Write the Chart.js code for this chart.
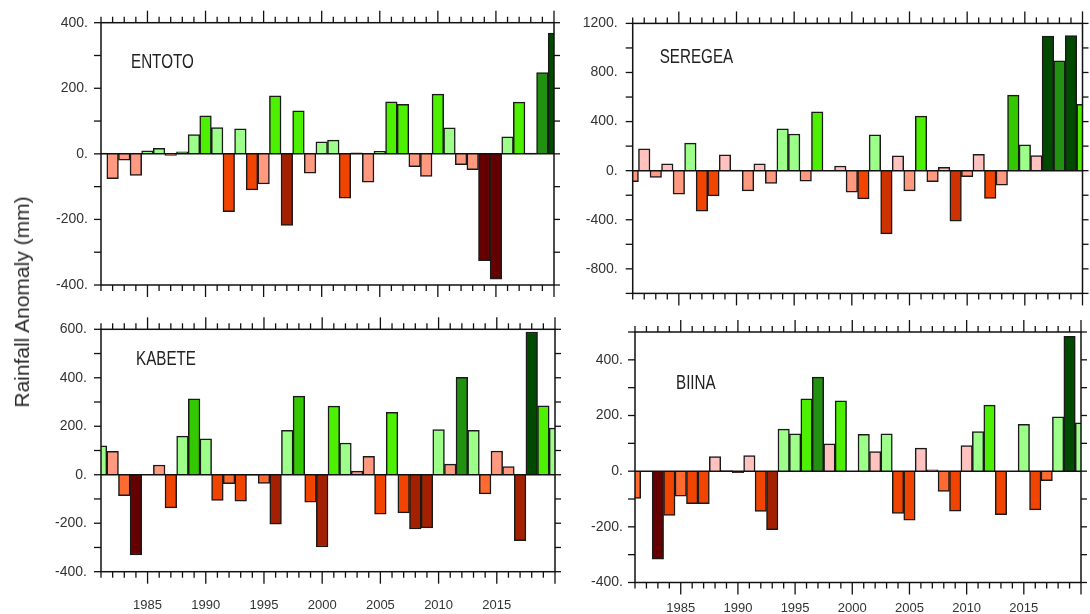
<!DOCTYPE html>
<html>
<head>
<meta charset="utf-8">
<script src="https://cdn.jsdelivr.net/npm/chart.js@4.4.1/dist/chart.umd.min.js"></script>
<style>
  html, body { margin: 0; padding: 0; background: #fff; }
  #wrap { position: relative; width: 1090px; height: 614px; overflow: hidden; background: #fff; }
  #wrap canvas { position: absolute; left: 0; top: 0; }
  #ytitle {
    position: absolute; left: 22px; top: 302px;
    transform: translate(-50%, -50%) rotate(-90deg);
    font: 21px "Liberation Sans", Arial, sans-serif; color: #2a2a2a; white-space: nowrap;
  }
</style>
</head>
<body>
<div id="wrap">
  <canvas id="entoto" width="1090" height="614"></canvas>
  <canvas id="seregea" width="1090" height="614"></canvas>
  <canvas id="kabete" width="1090" height="614"></canvas>
  <canvas id="biina" width="1090" height="614"></canvas>
  <div id="ytitle">Rainfall Anomaly (mm)</div>
</div>
<script>
// years shown on every panel
const years = [1981, 1982, 1983, 1984, 1985, 1986, 1987, 1988, 1989, 1990,
  1991, 1992, 1993, 1994, 1995, 1996, 1997, 1998, 1999, 2000,
  2001, 2002, 2003, 2004, 2005, 2006, 2007, 2008, 2009, 2010,
  2011, 2012, 2013, 2014, 2015, 2016, 2017, 2018, 2019, 2020];
const yearTicks = [1985, 1990, 1995, 2000, 2005, 2010, 2015];

// rainfall anomaly (mm)
const entoto = [2, -76, -19, -66, 9, 17, -5, 6, 59, 116,
  80, -176, 76, -110, -92, 177, -218, 131, -59, 37,
  42, -135, 3, -86, 8, 159, 151, -39, -69, 182,
  79, -33, -48, -326, -382, 52, 158, 2, 248, 368];
const seregea = [-90, 178, -55, 55, -192, 225, -329, -205, 129, 5,
  -164, 55, -104, 340, 299, -85, 480, 3, 38, -175,
  -230, 293, -515, 120, -164, 444, -90, 27, -411, -49,
  134, -227, -118, 616, 211, 123, 1096, 896, 1101, 540];
const kabete = [119, 97, -86, -331, 2, 40, -137, 159, 313, 148,
  -106, -37, -109, -2, -36, -204, 183, 324, -113, -298,
  283, 131, 15, 76, -163, 257, -157, -224, -219, 186,
  44, 402, 183, -79, 98, 34, -272, 589, 284, 193];
const biina = [-98, -2, -316, -159, -90, -117, -117, 52, 2, -5,
  56, -145, -210, 151, 134, 260, 338, 98, 253, -2,
  132, 70, 134, -152, -176, 83, 5, -73, -144, 92,
  142, 237, -156, -2, 168, -139, -34, 195, 484, 174];

// y tick labels
const entotoTicks = [-400, -200, 0, 200, 400];
const seregeaTicks = [-800, -400, 0, 400, 800, 1200];
const kabeteTicks = [-400, -200, 0, 200, 400, 600];
const biinaTicks = [-400, -200, 0, 200, 400];

// colour classes
const C = {
  maroon: "#650000", darkRed: "#a32000", rust: "#cc3300", redOrange: "#f04400",
  orange: "#ff6a30", salmon: "#ff9a80", pink: "#ffc2be", lightGreen: "#9dff8a",
  brightGreen: "#4cf000", midGreen: "#33c800", forest: "#229010", darkGreen: "#004a00"
};
const bins = {
  entoto: { limits: [-300, -200, -100, 0, 100, 200, 300],
    colors: [C.maroon, C.darkRed, C.redOrange, C.salmon, C.lightGreen, C.brightGreen, C.forest, C.darkGreen] },
  seregea: { limits: [-400, -200, 0, 200, 400, 600, 800, 1000],
    colors: [C.rust, C.redOrange, C.salmon, C.pink, C.lightGreen, C.brightGreen, C.midGreen, C.forest, C.darkGreen] },
  kabete: { limits: [-300, -200, -100, 0, 100, 200, 300, 400, 500],
    colors: [C.maroon, C.darkRed, C.redOrange, C.orange, C.salmon, C.lightGreen, C.brightGreen, C.midGreen, C.forest, C.darkGreen] },
  biina: { limits: [-300, -200, -100, 0, 100, 200, 300, 400],
    colors: [C.maroon, C.darkRed, C.redOrange, C.orange, C.pink, C.lightGreen, C.brightGreen, C.forest, C.darkGreen] }
};

function classColor(v, b) {
  for (let i = 0; i < b.limits.length; i++) {
    if (v < b.limits[i]) return b.colors[i];
  }
  return b.colors[b.colors.length - 1];
}

const FONT = '"Liberation Sans", Arial, sans-serif';
const Y_AXIS_W = 50;

// frame, zero line, outward tick marks and station name
const frameTicks = {
  id: "frameTicks",
  afterDatasetsDraw(chart, args, opts) {
    const { ctx, chartArea: a, scales: { x, y } } = chart;
    const line = (x1, y1, x2, y2) => {
      ctx.beginPath(); ctx.moveTo(x1, y1); ctx.lineTo(x2, y2); ctx.stroke();
    };
    ctx.save();
    ctx.strokeStyle = "#111";
    ctx.lineWidth = 1.5;
    const y0 = y.getPixelForValue(0);
    line(a.left, y0, a.right, y0);
    ctx.strokeRect(a.left, a.top, a.width, a.height);
    ctx.lineWidth = 1.3;
    for (let yr = x.min; yr <= x.max; yr++) {
      const px = x.getPixelForValue(yr);
      const major = yr % 5 === 0;
      line(px, a.bottom, px, a.bottom + (major ? 12 : 6));
      line(px, a.top, px, a.top - (major ? 12 : 6));
    }
    for (let v = y.min; v <= y.max; v += opts.minor) {
      const py = y.getPixelForValue(v);
      line(a.left - 7, py, a.left, py);
      line(a.right, py, a.right + 6, py);
    }
    // station name, squeezed like the original lettering
    ctx.translate(a.left + opts.dx, a.top + opts.dy);
    ctx.scale(0.76, 1);
    ctx.fillStyle = "#222";
    ctx.font = "20px " + FONT;
    ctx.textBaseline = "alphabetic";
    ctx.fillText(opts.name, 0, 0);
    ctx.restore();
  }
};

const panels = [
  { id: "entoto", name: "ENTOTO", values: entoto, ticks: entotoTicks, bins: bins.entoto,
    yMin: -400, yMax: 400, minor: 100, area: [101, 22.7, 554, 285],
    showYears: false, labelPad: 20, yPad: 13, dx: 30, dy: 45.5 },
  { id: "seregea", name: "SEREGEA", values: seregea, ticks: seregeaTicks, bins: bins.seregea,
    yMin: -1000, yMax: 1200, minor: 200, area: [632.7, 23, 1082.5, 293.4],
    showYears: false, labelPad: 20, yPad: 15, dx: 27, dy: 39.5 },
  { id: "kabete", name: "KABETE", values: kabete, ticks: kabeteTicks, bins: bins.kabete,
    yMin: -400, yMax: 600, minor: 100, area: [101, 329.3, 555, 571.7],
    showYears: true, labelPad: 25.5, yPad: 14, dx: 35, dy: 35.7 },
  { id: "biina", name: "BIINA", values: biina, ticks: biinaTicks, bins: bins.biina,
    yMin: -400, yMax: 500, minor: 100, area: [635, 332, 1081, 582.5],
    showYears: true, labelPad: 18.5, yPad: 12, dx: 41, dy: 56.6 }
];

panels.forEach((p) => {
  const [L, T, R, B] = p.area;
  // x axis box reaches the bottom of the page so its labels are not clipped
  const xAxisH = p.showYears ? 614 - B : 30;
  new Chart(document.getElementById(p.id), {
    type: "bar",
    data: {
      labels: years,
      datasets: [{
        data: p.values,
        backgroundColor: p.values.map((v) => classColor(v, p.bins)),
        borderColor: "#1a1a1a",
        borderWidth: 1.5,
        barPercentage: 1,
        categoryPercentage: 1,
        clip: 0
      }]
    },
    options: {
      responsive: false,
      animation: false,
      events: [],
      layout: { padding: { left: L - Y_AXIS_W, top: T, right: 1090 - R, bottom: 614 - B - xAxisH } },
      plugins: {
        legend: { display: false },
        tooltip: { enabled: false },
        frameTicks: { minor: p.minor, name: p.name, dx: p.dx, dy: p.dy }
      },
      scales: {
        x: {
          type: "linear", min: 1981, max: 2020, offset: false,
          grid: { display: false, drawTicks: false },
          border: { display: false },
          afterBuildTicks: (s) => { s.ticks = yearTicks.map((v) => ({ value: v })); },
          afterFit: (s) => { s.height = xAxisH; },
          ticks: {
            display: p.showYears, autoSkip: false, maxRotation: 0, padding: p.labelPad,
            color: "#333", font: { family: FONT, size: 13 },
            callback: (v) => String(v)
          }
        },
        y: {
          min: p.yMin, max: p.yMax,
          grid: { display: false, drawTicks: false },
          border: { display: false },
          afterBuildTicks: (s) => { s.ticks = p.ticks.map((v) => ({ value: v })); },
          afterFit: (s) => { s.width = Y_AXIS_W; },
          ticks: {
            padding: p.yPad, color: "#333", font: { family: FONT, size: 14 },
            callback: (v) => v + "."
          }
        }
      }
    },
    plugins: [frameTicks]
  });
});
</script>
</body>
</html>
